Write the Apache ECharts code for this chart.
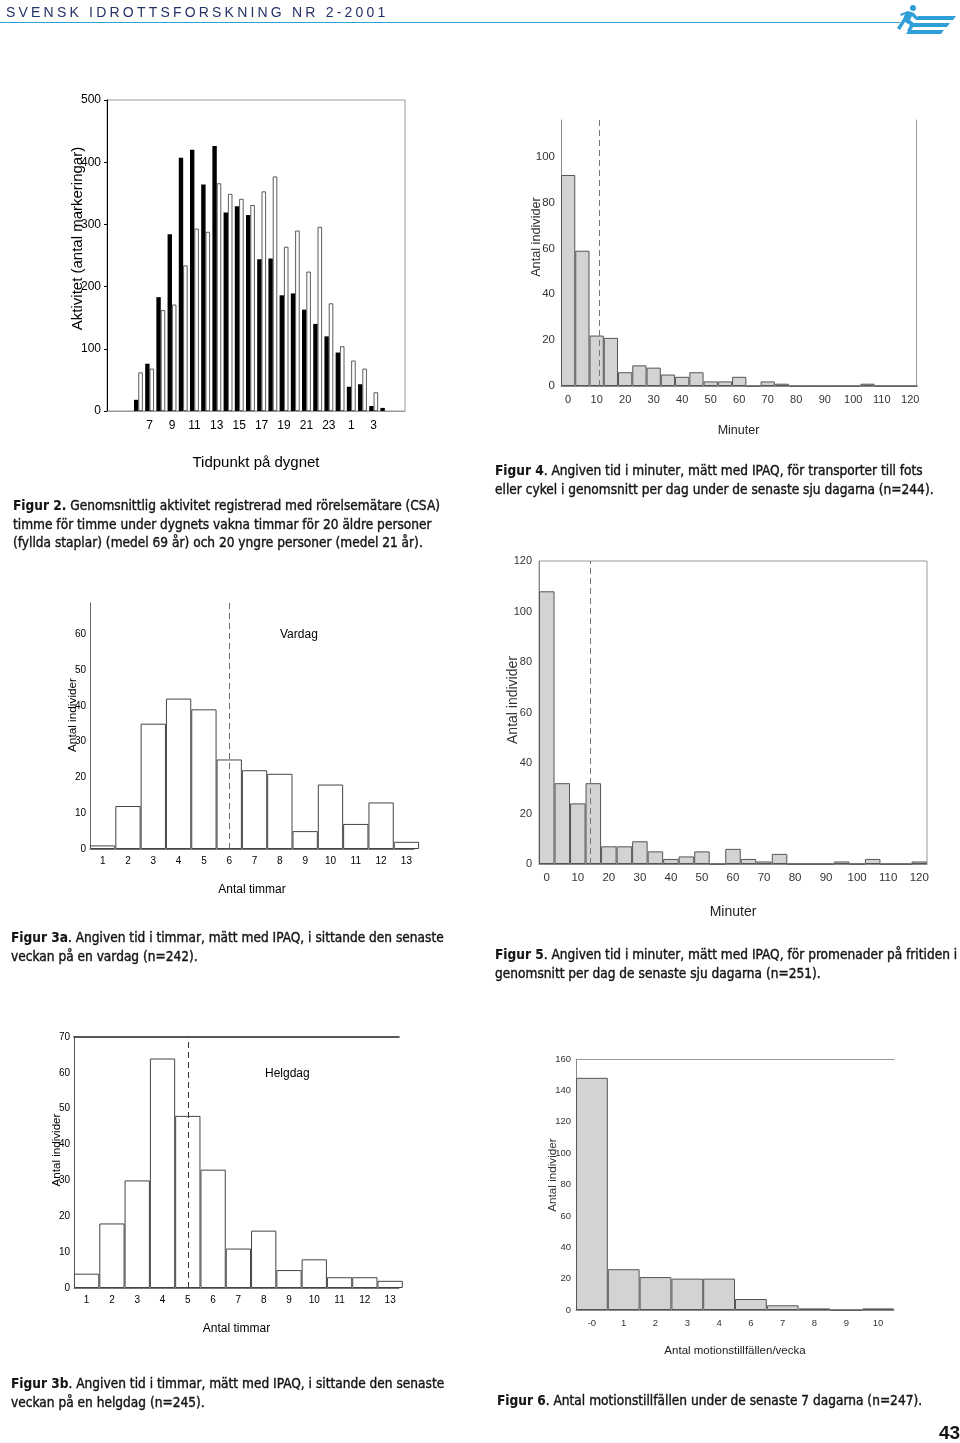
<!DOCTYPE html>
<html>
<head>
<meta charset="utf-8">
<script src="https://cdn.jsdelivr.net/npm/echarts@6/dist/echarts.min.js"></script>
<style>
html,body{margin:0;padding:0;background:#fff;}
#page{position:relative;width:960px;height:1443px;overflow:hidden;background:#fff;}
#chart{position:absolute;left:0;top:0;width:960px;height:1443px;}
.cap{position:absolute;font-family:'Liberation Sans Narrow','DejaVu Sans Condensed','Liberation Sans',sans-serif;font-size:14.5px;line-height:18.5px;color:#151515;white-space:nowrap;-webkit-text-stroke:0.4px #151515;transform-origin:0 0;}
.cap b{font-weight:bold;-webkit-text-stroke:0.1px #151515;}
#hdr{position:absolute;left:6px;top:4px;font-family:'Liberation Sans',sans-serif;font-size:14px;letter-spacing:3.2px;color:#243366;white-space:nowrap;}
#hline{position:absolute;left:0;top:22px;width:900px;height:1px;background:#2f9fd8;}
#logo{position:absolute;left:888px;top:2px;}
#pnum{position:absolute;left:939px;top:1422px;font-family:'Liberation Sans Narrow','Liberation Sans',sans-serif;font-weight:bold;font-size:19px;color:#111;}
</style>
</head>
<body>
<div id="page">
<div id="chart"></div>
<div id="hdr">SVENSK IDROTTSFORSKNING NR 2-2001</div>
<div id="hline"></div>
<svg id="logo" width="70" height="34" viewBox="0 0 70 34">
  <circle cx="25" cy="6" r="3" fill="#2f9fd8"/>
  <path d="M12 12 L20 9 L26 11 L30 16 L27 17 L24 14 L22 18 L27 22 L22 30 L19 29 L22 23 L17 20 L12 28 L9 26 L15 17 L17 12 L13 14 Z" fill="#2f9fd8"/>
  <path d="M30 14 L68 14 L65 18 L27 18 Z" fill="#2f9fd8"/>
  <path d="M26 21 L62 21 L59 25 L23 25 Z" fill="#2f9fd8"/>
  <path d="M21 28 L56 28 L53 32 L18 32 Z" fill="#2f9fd8"/>
</svg>
<div class="cap" style="left:13px;top:496px;"><span id="refline"><b>Figur 2.</b> Genomsnittlig aktivitet registrerad med rörelsemätare (CSA)</span><br>timme för timme under dygnets vakna timmar för 20 äldre personer<br>(fyllda staplar) (medel 69 år) och 20 yngre personer (medel 21 år).</div>
<div class="cap" style="left:495px;top:461px;"><b>Figur 4</b>. Angiven tid i minuter, mätt med IPAQ, för transporter till fots<br>eller cykel i genomsnitt per dag under de senaste sju dagarna (n=244).</div>
<div class="cap" style="left:11px;top:928px;"><b>Figur 3a</b>. Angiven tid i timmar, mätt med IPAQ, i sittande den senaste<br>veckan på en vardag (n=242).</div>
<div class="cap" style="left:495px;top:945px;"><b>Figur 5</b>. Angiven tid i minuter, mätt med IPAQ, för promenader på fritiden i<br>genomsnitt per dag de senaste sju dagarna (n=251).</div>
<div class="cap" style="left:11px;top:1374px;"><b>Figur 3b</b>. Angiven tid i timmar, mätt med IPAQ, i sittande den senaste<br>veckan på en helgdag (n=245).</div>
<div class="cap" style="left:497px;top:1391px;"><b>Figur 6</b>. Antal motionstillfällen under de senaste 7 dagarna (n=247).</div>
<div id="pnum">43</div>
</div>
<script>
// ---------- Figur 2: activity per hour ----------
const fig2Hours = ['6','7','8','9','10','11','12','13','14','15','16','17','18','19','20','21','22','23','0','1','2','3','4'];
const fig2TickLabels = ['7','9','11','13','15','17','19','21','23','1','3'];
const fig2Older = [18,76,183,284,407,420,364,426,319,329,315,244,245,186,189,163,140,120,94,39,43,8,5];
const fig2Younger = [62,68,162,171,234,293,288,366,349,341,331,353,377,264,290,224,296,173,104,81,68,30,null];

// ---------- Figur 4: transport minutes ----------
const minuteBins = [0,5,10,15,20,25,30,35,40,45,50,55,60,65,70,75,80,85,90,95,100,105,110,115,120];
const fig4Counts = [92,59,22,21,6,9,8,5,4,6,2,2,4,0,2,1,0,0,0,0,0,1,0,0,0];
const fig4Median = 11;

// ---------- Figur 5: walking minutes ----------
const fig5Counts = [108,32,24,32,7,7,9,5,2,3,5,0,6,2,1,4,0,0,0,1,0,2,0,0,1];
const fig5Median = 14;

// ---------- Figur 3a / 3b: sitting hours ----------
const hourBins = [1,2,3,4,5,6,7,8,9,10,11,12,13];
const fig3aCounts = [1,12,35,42,39,25,22,21,5,18,7,13,2];
const fig3aMedian = 6;
const fig3bCounts = [4,18,30,64,48,33,11,16,5,8,3,3,2];
const fig3bMedian = 5;

// ---------- Figur 6: exercise occasions ----------
const fig6Categories = ['-0','1','2','3','4','6','7','8','9','10'];
const fig6Counts = [148,26,21,20,20,7,3,1,0,1];

// fit caption width (condensed typeface)
(function(){
  const ref = document.getElementById('refline');
  const w = ref.getBoundingClientRect().width;
  const k = w > 0 ? 427 / w : 1;
  document.querySelectorAll('.cap').forEach(c => { c.style.transform = 'scaleX(' + k + ')'; });
})();

const FONT = 'Liberation Sans';
const chart = echarts.init(document.getElementById('chart'), null, {renderer:'canvas', width:960, height:1443});

const grids = [
  {left:107, top:100, width:298, height:311, show:true, borderColor:'#9a9a9a', borderWidth:1, backgroundColor:'transparent'}, // fig2
  {left:561, top:120, width:355, height:266}, // fig4
  {left:90,  top:603, width:324, height:246}, // fig3a
  {left:539, top:561, width:388, height:303, show:true, borderColor:'#9a9a9a', borderWidth:1, backgroundColor:'transparent'}, // fig5
  {left:74,  top:1037, width:325, height:251}, // fig3b
  {left:576, top:1059, width:318, height:251}  // fig6
];
grids.forEach(g => { g.outerBoundsMode = 'none'; g.containLabel = false; });

function isStep(v, step){ const k = Math.round(v/step); return Math.abs(v - k*step) < 1e-6; }

function yAx(grid, max, interval, step, name, opts){
  return Object.assign({
    type:'value', gridIndex:grid, min:0, max:max, interval:interval,
    splitLine:{show:false},
    axisLine:{show:true, onZero:false, lineStyle:{color:opts.lineColor, width:1}},
    axisTick:{show:opts.tick || false, length:3, inside:false, lineStyle:{color:opts.lineColor}},
    axisLabel:{fontFamily:FONT, fontSize:opts.fs, color:opts.color, margin:opts.margin,
      formatter: v => isStep(v, step) ? String(Math.round(v)) : ''},
    name:name, nameLocation:'middle', nameGap:opts.nameGap, nameRotate:90, nameMoveOverlap:false,
    nameTextStyle:{fontFamily:FONT, fontSize:opts.nfs, color:opts.color, padding:[0,0,0,opts.shift]}
  }, opts.extra || {});
}

const xAxes = [
  // 0: fig2
  {type:'value', gridIndex:0, min:-2.8, max:23.8, interval:0.2,
   splitLine:{show:false}, axisTick:{show:false},
   axisLine:{show:true, onZero:false, lineStyle:{color:'#9a9a9a'}},
   axisLabel:{fontFamily:FONT, fontSize:12, color:'#000', margin:9,
     formatter: v => { const i = Math.round(v); if (Math.abs(v-i) > 1e-6 || i < 1 || i % 2 !== 1) return ''; const k = (i-1)/2; return k < fig2TickLabels.length ? fig2TickLabels[k] : ''; }},
   name:'Tidpunkt på dygnet', nameLocation:'middle', nameGap:44,
   nameTextStyle:{fontFamily:FONT, fontSize:15, color:'#000'}},
  // 1: fig4
  {type:'value', gridIndex:1, min:-2.5, max:122, interval:2.5,
   splitLine:{show:false}, axisTick:{show:false},
   axisLine:{show:true, onZero:false, lineStyle:{color:'#8a8a8a'}},
   axisLabel:{fontFamily:FONT, fontSize:11, color:'#333', margin:8,
     formatter: v => (isStep(v,10) && v >= 0) ? String(Math.round(v)) : ''},
   name:'Minuter', nameLocation:'middle', nameGap:38,
   nameTextStyle:{fontFamily:FONT, fontSize:12.5, color:'#222'}},
  // 2: fig3a
  {type:'value', gridIndex:2, min:0.5, max:13.3, interval:0.5,
   splitLine:{show:false}, axisTick:{show:false},
   axisLine:{show:true, onZero:false, lineStyle:{color:'#777'}},
   axisLabel:{fontFamily:FONT, fontSize:10, color:'#000', margin:7,
     formatter: v => (isStep(v,1) && v >= 1) ? String(Math.round(v)) : ''},
   name:'Antal timmar', nameLocation:'middle', nameGap:35,
   nameTextStyle:{fontFamily:FONT, fontSize:12, color:'#000'}},
  // 3: fig5
  {type:'value', gridIndex:3, min:-2.5, max:122.5, interval:2.5,
   splitLine:{show:false}, axisTick:{show:false},
   axisLine:{show:true, onZero:false, lineStyle:{color:'#8a8a8a'}},
   axisLabel:{fontFamily:FONT, fontSize:11.5, color:'#333', margin:8,
     formatter: v => (isStep(v,10) && v >= 0) ? String(Math.round(v)) : ''},
   name:'Minuter', nameLocation:'middle', nameGap:41,
   nameTextStyle:{fontFamily:FONT, fontSize:14, color:'#222'}},
  // 4: fig3b
  {type:'value', gridIndex:4, min:0.5, max:13.35, interval:0.5,
   splitLine:{show:false}, axisTick:{show:false},
   axisLine:{show:true, onZero:false, lineStyle:{color:'#777'}},
   axisLabel:{fontFamily:FONT, fontSize:10, color:'#000', margin:7,
     formatter: v => (isStep(v,1) && v >= 1) ? String(Math.round(v)) : ''},
   name:'Antal timmar', nameLocation:'middle', nameGap:35,
   nameTextStyle:{fontFamily:FONT, fontSize:12, color:'#000'}},
  // 5: fig6
  {type:'category', gridIndex:5, data:fig6Categories, boundaryGap:true,
   splitLine:{show:false}, axisTick:{show:false},
   axisLine:{show:true, onZero:false, lineStyle:{color:'#8a8a8a'}},
   axisLabel:{fontFamily:FONT, fontSize:9.5, color:'#333', margin:8, interval:0},
   name:'Antal motionstillfällen/vecka', nameLocation:'middle', nameGap:35,
   nameTextStyle:{fontFamily:FONT, fontSize:11.5, color:'#222'}},
  // 6: fig3b top frame line
  {type:'value', gridIndex:4, position:'top', min:0.5, max:13.35,
   axisLine:{show:true, onZero:false, lineStyle:{color:'#222', width:1.5}}, axisTick:{show:false}, axisLabel:{show:false}, splitLine:{show:false}},
  // 7: fig6 top frame line
  {type:'category', gridIndex:5, position:'top', data:fig6Categories,
   axisLine:{show:true, onZero:false, lineStyle:{color:'#9a9a9a'}}, axisTick:{show:false}, axisLabel:{show:false}, splitLine:{show:false}}
];

const yAxes = [
  yAx(0, 500, 100, 100, 'Aktivitet (antal markeringar)', {lineColor:'#000', tick:true, fs:12, color:'#000', margin:6, nameGap:22, nfs:15, shift:34}),
  yAx(1, 116, 20, 20, 'Antal individer', {lineColor:'#8a8a8a', fs:11.5, color:'#333', margin:6, nameGap:18, nfs:12.7, shift:32}),
  yAx(2, 68.7, 10, 10, 'Antal individer', {lineColor:'#666', fs:10, color:'#000', margin:4, nameGap:11, nfs:11.8, shift:22}),
  yAx(3, 120, 20, 20, 'Antal individer', {lineColor:'#8a8a8a', fs:11, color:'#333', margin:7, nameGap:19, nfs:14, shift:25}),
  yAx(4, 70, 10, 10, 'Antal individer', {lineColor:'#555', fs:10, color:'#000', margin:4, nameGap:11, nfs:11.6, shift:25}),
  yAx(5, 160, 20, 20, 'Antal individer', {lineColor:'#8a8a8a', fs:9.5, color:'#333', margin:5, nameGap:17, nfs:11.7, shift:19}),
  // fig4 right frame line
  {type:'value', gridIndex:1, position:'right', min:0, max:116,
   axisLine:{show:true, onZero:false, lineStyle:{color:'#9a9a9a'}}, axisTick:{show:false}, axisLabel:{show:false}, splitLine:{show:false}}
];

function pxPerUnit(gi, xi){ return grids[gi].width / (xAxes[xi].max - xAxes[xi].min); }

const grayBar = {color:'#d3d3d3', borderColor:'#555', borderWidth:1};
const whiteBar = {color:'#fff', borderColor:'#444', borderWidth:1};
function dashLine(v, color){
  return {silent:true, symbol:['none','none'], label:{show:false}, animation:false,
    lineStyle:{type:[6,4], color:color, width:1}, emphasis:{disabled:true}, data:[{xAxis:v}]};
}

const series = [
  {type:'bar', name:'äldre', xAxisIndex:0, yAxisIndex:0, barWidth:4.4, barGap:'0%',
   data: fig2Older.map((v,i)=>[i,v]), itemStyle:{color:'#000'}},
  {type:'bar', name:'yngre', xAxisIndex:0, yAxisIndex:0, barWidth:4.4, barGap:'0%',
   data: fig2Younger.map((v,i)=>[i,v]), itemStyle:{color:'#fff', borderColor:'#333', borderWidth:0.8}},
  {type:'bar', xAxisIndex:1, yAxisIndex:1, barWidth: pxPerUnit(1,1)*5,
   data: minuteBins.map((b,i)=>[b, fig4Counts[i]]), itemStyle:grayBar, markLine: dashLine(fig4Median, '#777')},
  {type:'bar', xAxisIndex:2, yAxisIndex:2, barWidth: pxPerUnit(2,2),
   data: hourBins.map((b,i)=>[b, fig3aCounts[i]]), itemStyle:whiteBar, markLine: dashLine(fig3aMedian, '#666')},
  {type:'bar', xAxisIndex:3, yAxisIndex:3, barWidth: pxPerUnit(3,3)*5,
   data: minuteBins.map((b,i)=>[b, fig5Counts[i]]), itemStyle:grayBar, markLine: dashLine(fig5Median, '#777')},
  {type:'bar', xAxisIndex:4, yAxisIndex:4, barWidth: pxPerUnit(4,4),
   data: hourBins.map((b,i)=>[b, fig3bCounts[i]]), itemStyle:whiteBar, markLine: dashLine(fig3bMedian, '#333')},
  {type:'bar', xAxisIndex:5, yAxisIndex:5, barCategoryGap:'0%',
   data: fig6Counts, itemStyle:grayBar}
];

const graphic = [
  {type:'text', left:280, top:629, style:{text:'Vardag', font:'12px "Liberation Sans"', fill:'#000'}},
  {type:'text', left:265, top:1068, style:{text:'Helgdag', font:'12px "Liberation Sans"', fill:'#000'}}
];

chart.setOption({
  animation:false,
  backgroundColor:'transparent',
  textStyle:{fontFamily:FONT},
  grid:grids, xAxis:xAxes, yAxis:yAxes, series:series, graphic:graphic,
  tooltip:{show:false}
});
</script>
</body>
</html>
